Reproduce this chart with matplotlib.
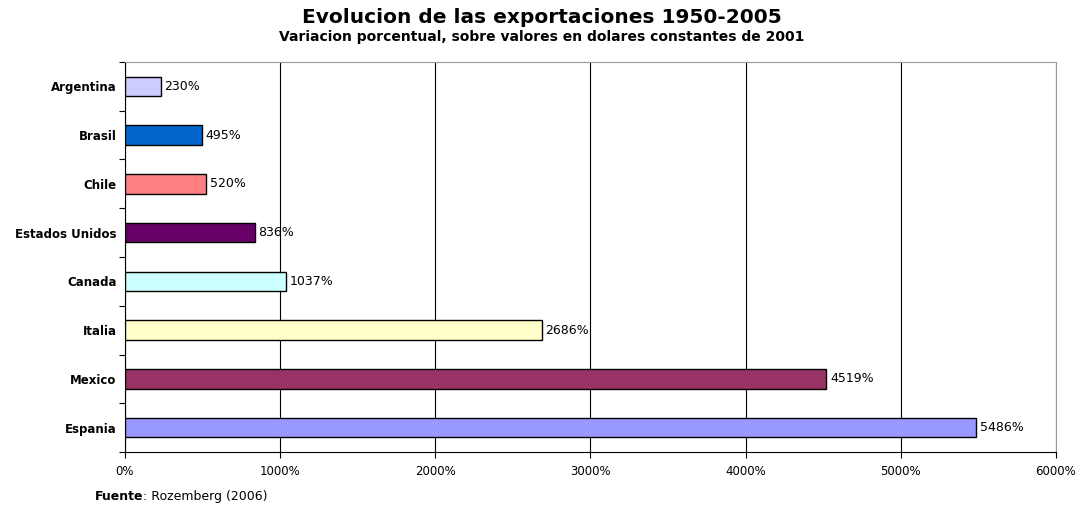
import matplotlib.pyplot as plt
from matplotlib.ticker import FuncFormatter

plt.rcParams['font.family'] = ['DejaVu Sans']

paises = ['Argentina', 'Brasil', 'Chile', 'Estados Unidos', 'Canada', 'Italia', 'Mexico', 'Espania']
variacion = [230, 495, 520, 836, 1037, 2686, 4519, 5486]
colores = ['#CCCCFF', '#0066CC', '#FF8080', '#660066', '#CCFFFF', '#FFFFCC', '#993366', '#9999FF']

fig = plt.figure(figsize=(10.83, 5.12), dpi=100)
ax = fig.add_axes([0.1154, 0.117, 0.8596, 0.762])

y = list(range(len(paises)))
ax.barh(y, variacion, height=0.4, color=colores, edgecolor='black', linewidth=1.0, zorder=3)

for yi, v in zip(y, variacion):
    ax.text(v + 25, yi, f'{v}%', va='center', ha='left', fontsize=9, zorder=4)

ax.set_xlim(0, 6000)
ax.set_ylim(len(paises) - 0.5, -0.5)
ax.set_xticks(range(0, 6001, 1000))
ax.xaxis.set_major_formatter(FuncFormatter(lambda x, p: f'{int(x)}%'))
ax.tick_params(axis='x', labelsize=8.5, length=4, direction='out', pad=5)
ax.grid(axis='x', color='black', linewidth=0.8, zorder=0)

# ticks del eje y en los limites entre categorias
ax.set_yticks([i - 0.5 for i in range(len(paises) + 1)])
ax.set_yticklabels([])
ax.set_yticks(y, minor=True)
ax.set_yticklabels(paises, minor=True, fontsize=8.5, fontweight='bold')
ax.tick_params(axis='y', which='major', length=4, direction='out')
ax.tick_params(axis='y', which='minor', length=0, pad=6)

ax.spines['left'].set_color('black')
ax.spines['bottom'].set_color('black')
ax.spines['right'].set_color('#999999')
ax.spines['top'].set_color('#999999')

fig.text(0.5, 0.965, 'Evolucion de las exportaciones 1950-2005', ha='center', va='center',
         fontsize=14.5, fontweight='bold')
fig.text(0.5, 0.928, 'Variacion porcentual, sobre valores en dolares constantes de 2001', ha='center',
         va='center', fontsize=10, fontweight='bold')
t1 = fig.text(0.0877, 0.03, 'Fuente', ha='left', va='center', fontsize=9, fontweight='bold')
ax.annotate(': Rozemberg (2006)', xy=(1, 0), xycoords=t1, ha='left', va='bottom', fontsize=9)

plt.savefig('out.png', dpi=100)
